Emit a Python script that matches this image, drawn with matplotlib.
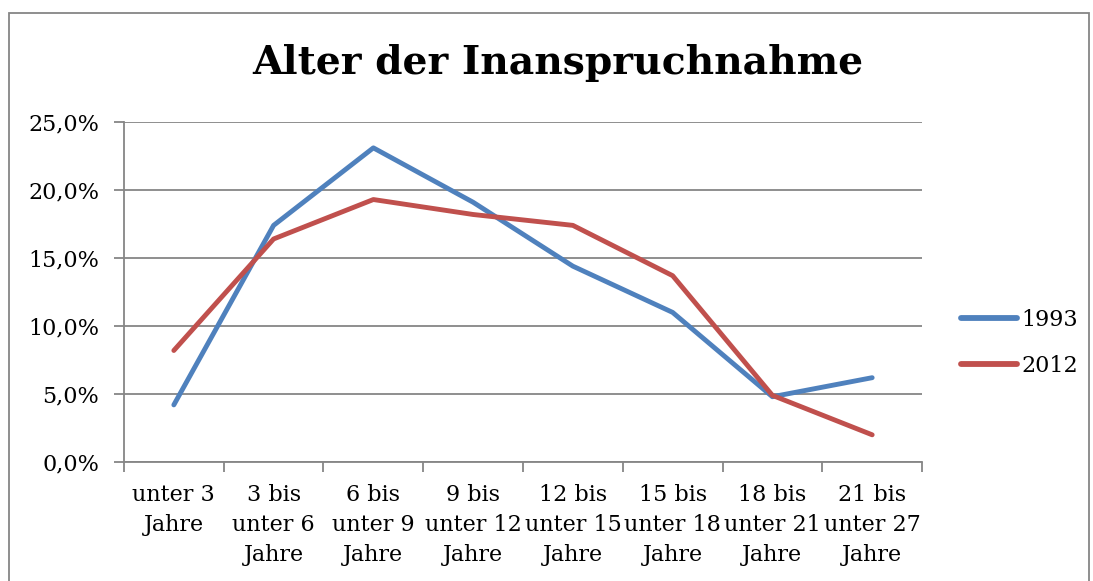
import matplotlib
matplotlib.use("Agg")
import matplotlib.pyplot as plt
from matplotlib.patches import Rectangle

categories = [
    "unter 3\nJahre",
    "3 bis\nunter 6\nJahre",
    "6 bis\nunter 9\nJahre",
    "9 bis\nunter 12\nJahre",
    "12 bis\nunter 15\nJahre",
    "15 bis\nunter 18\nJahre",
    "18 bis\nunter 21\nJahre",
    "21 bis\nunter 27\nJahre",
]
values_1993 = [4.2, 17.4, 23.1, 19.1, 14.4, 11.0, 4.8, 6.2]
values_2012 = [8.2, 16.4, 19.3, 18.2, 17.4, 13.7, 4.9, 2.0]
yticks = [0, 5, 10, 15, 20, 25]
ytick_labels = ["0,0%", "5,0%", "10,0%", "15,0%", "20,0%", "25,0%"]

plt.rcParams["font.family"] = ["DejaVu Serif"]

fig = plt.figure(figsize=(10.93, 5.81), dpi=100)
ax = fig.add_axes([0.1134, 0.2048, 0.7302, 0.5852])

x = range(len(categories))
ax.plot(x, values_1993, color="#4F81BD", lw=3.5, label="1993", solid_capstyle="round")
ax.plot(x, values_2012, color="#C0504D", lw=3.5, label="2012", solid_capstyle="round")

ax.set_xlim(-0.5, len(categories) - 0.5)
ax.set_ylim(0, 25)
ax.set_yticks(yticks)
ax.set_yticklabels(ytick_labels, fontsize=16)
ax.set_xticks(x)
ax.set_xticklabels(categories, fontsize=16, linespacing=1.46)
ax.set_xticks([i - 0.5 for i in range(len(categories) + 1)], minor=True)
ax.tick_params(axis="x", which="major", length=0, pad=16)
ax.tick_params(axis="x", which="minor", length=7, color="#868686", width=1.3)
ax.tick_params(axis="y", length=7, color="#868686", width=1.3, pad=11)

ax.grid(axis="y", color="#868686", lw=1.3)
ax.set_axisbelow(True)
for s in ["top", "right"]:
    ax.spines[s].set_visible(False)
ax.spines["left"].set_color("#868686")
ax.spines["bottom"].set_color("#868686")
ax.spines["left"].set_linewidth(1.3)
ax.spines["bottom"].set_linewidth(1.3)

fig.text(0.51, 0.892, "Alter der Inanspruchnahme", ha="center", va="center",
         fontsize=28.3, fontweight="bold")

leg = fig.legend(loc="center left", bbox_to_anchor=(961 / 1093, 1 - 343 / 581),
                 frameon=False, fontsize=16, handlelength=2.5, handletextpad=0.2,
                 labelspacing=1.1, borderpad=0, borderaxespad=0)
for h in leg.get_lines():
    h.set_linewidth(4.2)

fig.patches.append(Rectangle((9 / 1093, -0.05), 1080 / 1093, 1 - 13 / 581 + 0.05,
                             transform=fig.transFigure, fill=False,
                             edgecolor="#868686", lw=1.3))

fig.savefig("out.png", dpi=100)
